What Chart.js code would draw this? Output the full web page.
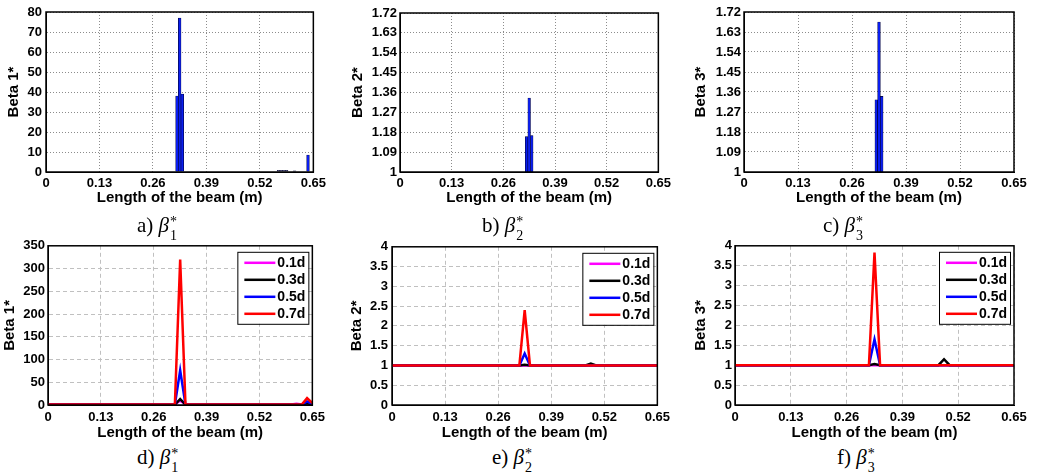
<!DOCTYPE html>
<html>
<head>
<meta charset="utf-8">
<script src="https://cdn.jsdelivr.net/npm/chart.js@4"></script>
<style>
body { margin: 0; background: #fff; width: 1039px; height: 473px; position: relative; overflow: hidden; }
canvas { position: absolute; }
.cap { position: absolute; font-family: "Liberation Serif", "Times New Roman", serif; font-size: 21px; line-height: 1; white-space: nowrap; }
.ss { position: relative; display: inline-block; width: 9px; height: 1em; font-size: 14px; }
.ss .sp { position: absolute; left: 1px; top: -3px; }
.ss .sb { position: absolute; left: 1px; top: 11px; }
</style>
</head>
<body>
<canvas id="ca" width="330" height="208" style="left:0;top:0"></canvas>
<canvas id="cb" width="330" height="208" style="left:345px;top:0"></canvas>
<canvas id="cc" width="349" height="208" style="left:690px;top:0"></canvas>
<canvas id="cd" width="330" height="208" style="left:0;top:235px"></canvas>
<canvas id="ce" width="330" height="208" style="left:345px;top:235px"></canvas>
<canvas id="cf" width="349" height="208" style="left:690px;top:235px"></canvas>

<div class="cap" style="left:137px;top:215px">a) <i>β</i><span class="ss"><span class="sp">*</span><span class="sb">1</span></span></div>
<div class="cap" style="left:482px;top:215px">b) <i>β</i><span class="ss"><span class="sp">*</span><span class="sb">2</span></span></div>
<div class="cap" style="left:823px;top:215px">c) <i>β</i><span class="ss"><span class="sp">*</span><span class="sb">3</span></span></div>
<div class="cap" style="left:137px;top:447px">d) <i>β</i><span class="ss"><span class="sp">*</span><span class="sb">1</span></span></div>
<div class="cap" style="left:492px;top:447px">e) <i>β</i><span class="ss"><span class="sp">*</span><span class="sb">2</span></span></div>
<div class="cap" style="left:837px;top:447px">f) <i>β</i><span class="ss"><span class="sp">*</span><span class="sb">3</span></span></div>

<script>
// x axis ticks (beam length, m)
var xTicks = [0, 0.13, 0.26, 0.39, 0.52, 0.65];
var yTicksBC = [1, 1.09, 1.18, 1.27, 1.36, 1.45, 1.54, 1.63, 1.72];

// top row: bar heights per element
var barXa = [0.3185, 0.325, 0.3315, 0.5655, 0.572, 0.5785, 0.585, 0.6045, 0.637];
var beta1Bars = [38, 77, 39, 0.8, 0.8, 0.8, 0.8, 0.6, 8.5];
var barXbc = [0.3185, 0.325, 0.3315];
var beta2Bars = [1.16, 1.335, 1.165];
var beta3Bars = [1.325, 1.675, 1.34];

// bottom row: crack depths
var depthLabels = ['0.1d', '0.3d', '0.5d', '0.7d'];
var depthColors = ['#ff00ff', '#000000', '#0000ff', '#ff0000'];
var lineX = [0, 0.312, 0.325, 0.338, 0.474, 0.487, 0.5, 0.598, 0.611, 0.624, 0.637, 0.65];
var beta1Lines = [
  [1, 1, 10, 1, 1, 1, 1, 1, 2.5, 1, 2, 1],
  [1, 1, 13, 1, 1, 1, 1, 1, 1, 1, 4, 1],
  [1, 1, 76, 1, 1, 1, 1, 1, 1, 1, 8, 2],
  [1, 1, 320, 1, 1, 1, 1, 1, 1, 1, 15, 4]
];
var beta2Lines = [
  [1, 1, 1, 1, 1, 1, 1, 1, 1, 1, 1, 1],
  [1, 1, 1.02, 1, 1, 1.05, 1, 1, 1, 1, 1, 1],
  [1, 1, 1.3, 1, 1, 1, 1, 1, 1, 1, 1, 1],
  [1, 1, 2.4, 1, 1, 1, 1, 1, 1, 1, 1, 1]
];
var beta3Lines = [
  [1, 1, 1, 1, 1, 1, 1, 1, 1, 1, 1, 1],
  [1, 1, 1.03, 1, 1, 1.15, 1, 1, 1, 1, 1, 1],
  [1, 1, 1.65, 1, 1, 1, 1, 1, 1, 1, 1, 1],
  [1, 1, 3.83, 1, 1, 1, 1, 1, 1, 1, 1, 1]
];

var FONT = '"Liberation Sans", Arial, sans-serif';

var framePlugin = {
  id: 'frame',
  afterDatasetsDraw: function(chart) {
    var a = chart.chartArea, c = chart.ctx;
    c.save();
    c.strokeStyle = '#000';
    c.lineWidth = 1.5;
    c.strokeRect(a.left, a.top, a.right - a.left, a.bottom - a.top);
    c.restore();
  }
};

var boxLegend = {
  id: 'boxLegend',
  afterDraw: function(chart) {
    var a = chart.chartArea, c = chart.ctx;
    var w = 71, h = 72;
    var x = a.right - 4 - w, y = a.top + 6;
    c.save();
    c.fillStyle = '#fff';
    c.fillRect(x, y, w, h);
    c.strokeStyle = '#000';
    c.lineWidth = 1;
    c.strokeRect(x + 0.5, y + 0.5, w, h);
    c.font = 'bold 14px ' + FONT;
    c.textBaseline = 'middle';
    chart.data.datasets.forEach(function(ds, i) {
      var yy = y + 11 + i * 17;
      c.strokeStyle = ds.borderColor;
      c.lineWidth = 2.5;
      c.beginPath();
      c.moveTo(x + 7, yy);
      c.lineTo(x + 38, yy);
      c.stroke();
      c.fillStyle = '#000';
      c.fillText(ds.label, x + 40, yy);
    });
    c.restore();
  }
};

function makeScales(p) {
  var dash = p.dotted ? [1, 2] : [4, 3];
  var gridColor = p.dotted ? '#8c8c8c' : '#c0c0c0';
  var y = {
    min: p.ymin, max: p.ymax,
    grid: { color: gridColor, drawTicks: false },
    border: { dash: dash, color: '#000' },
    ticks: { color: '#000', padding: p.yPad, font: { family: FONT, size: 13, weight: 'bold' }, autoSkip: false, callback: function(v) { return String(v); } },
    title: { display: true, text: p.ytitle, color: '#000', padding: { top: p.titlePad, bottom: 0 }, font: { family: FONT, size: 15, weight: 'bold' } },
    afterFit: function(s) { s.width = p.yW; }
  };
  if (p.yStep) y.ticks.stepSize = p.yStep;
  if (p.yTicks) {
    y.afterBuildTicks = function(s) { s.ticks = p.yTicks.map(function(v) { return { value: v }; }); };
  }
  return {
    x: {
      type: 'linear', min: 0, max: 0.65, offset: false,
      grid: { color: gridColor, drawTicks: false, offset: false },
      border: { dash: dash, color: '#000' },
      ticks: { color: '#000', padding: p.xPad, font: { family: FONT, size: 13, weight: 'bold' }, maxRotation: 0, autoSkip: false, callback: function(v) { return String(v); } },
      afterBuildTicks: function(s) { s.ticks = xTicks.map(function(v) { return { value: v }; }); },
      title: { display: true, text: 'Length of the beam (m)', color: '#000', padding: { top: 0, bottom: 1 }, font: { family: FONT, size: 15, weight: 'bold' } },
      afterFit: function(s) { s.height = p.xH; }
    },
    y: y
  };
}

function barChart(id, xs, vals, p) {
  new Chart(document.getElementById(id), {
    type: 'bar',
    data: {
      datasets: [{
        data: xs.map(function(x, i) { return { x: x, y: vals[i] }; }),
        backgroundColor: vals.map(function(v) { return v > 2 || p.ymin > 0 ? '#0a1ef0' : '#9a9ab4'; }),
        borderColor: '#000030',
        borderWidth: 0.6,
        barPercentage: 1,
        categoryPercentage: 1
      }]
    },
    options: {
      responsive: false, animation: false, devicePixelRatio: 1,
      layout: { padding: { top: p.padTop, right: p.padRight, left: 0, bottom: 0 } },
      plugins: { legend: { display: false }, tooltip: { enabled: false } },
      scales: makeScales(p)
    },
    plugins: [framePlugin]
  });
}

function lineChart(id, series, p) {
  new Chart(document.getElementById(id), {
    type: 'line',
    data: {
      datasets: series.map(function(ys, k) {
        return {
          label: depthLabels[k],
          data: lineX.map(function(x, i) { return { x: x, y: ys[i] }; }),
          borderColor: depthColors[k],
          borderWidth: 2.5,
          pointRadius: 0,
          tension: 0,
          fill: false,
          order: series.length - 1 - k
        };
      })
    },
    options: {
      responsive: false, animation: false, devicePixelRatio: 1,
      layout: { padding: { top: p.padTop, right: p.padRight, left: 0, bottom: 0 } },
      plugins: { legend: { display: false }, tooltip: { enabled: false } },
      scales: makeScales(p)
    },
    plugins: [framePlugin, boxLegend]
  });
}

barChart('ca', barXa, beta1Bars, { dotted: true, ymin: 0, ymax: 80, yStep: 10, ytitle: 'Beta 1*', yW: 46, xH: 36, padTop: 12, padRight: 8, yPad: 4, xPad: 4, titlePad: 5 });
barChart('cb', barXbc, beta2Bars, { dotted: true, ymin: 1, ymax: 1.72, yTicks: yTicksBC, ytitle: 'Beta 2*', yW: 55, xH: 36, padTop: 13, padRight: 7, yPad: 3, xPad: 4, titlePad: 4 });
barChart('cc', barXbc, beta3Bars, { dotted: true, ymin: 1, ymax: 1.72, yTicks: yTicksBC, ytitle: 'Beta 3*', yW: 54, xH: 36, padTop: 12, padRight: 25, yPad: 3, xPad: 4, titlePad: 2 });
lineChart('cd', beta1Lines, { dotted: false, ymin: 0, ymax: 350, yStep: 50, ytitle: 'Beta 1*', yW: 48, xH: 38, padTop: 7, padRight: 7, yPad: 3, xPad: 5, titlePad: 1 });
lineChart('ce', beta2Lines, { dotted: false, ymin: 0, ymax: 4, yStep: 0.5, ytitle: 'Beta 2*', yW: 47, xH: 38, padTop: 7, padRight: 6, yPad: 4, xPad: 5, titlePad: 3 });
lineChart('cf', beta3Lines, { dotted: false, ymin: 0, ymax: 4, yStep: 0.5, ytitle: 'Beta 3*', yW: 45, xH: 38, padTop: 7, padRight: 25, yPad: 3, xPad: 5, titlePad: 2 });
</script>
</body>
</html>
